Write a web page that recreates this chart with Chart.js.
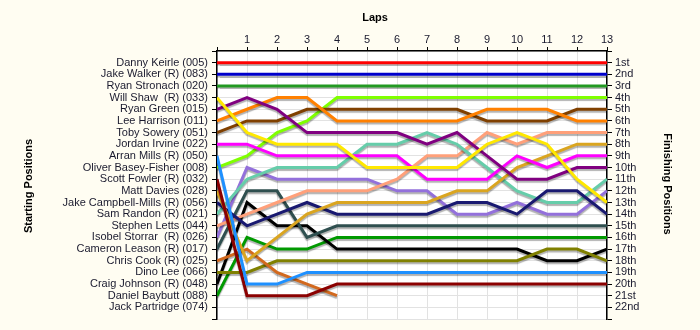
<!DOCTYPE html>
<html>
<head>
<meta charset="utf-8">
<title>Lap Chart</title>
<script src="https://cdn.jsdelivr.net/npm/chart.js@4.4.1/dist/chart.umd.min.js"></script>
<style>
    html, body { margin: 0; padding: 0; background: #FFFDF2; }
    #wrap { width: 700px; height: 330px; position: relative; }
</style>
</head>
<body>
<div id="wrap"><canvas id="lap-chart"></canvas></div>
<script>
// ======================================
// LAP CHART — DATA
// ======================================

const laps = [0, 1, 2, 3, 4, 5, 6, 7, 8, 9, 10, 11, 12, 13];

// starting grid order (tick labels on the left)
const startingGrid = [
    "Danny Keirle (005)", "Jake Walker (R) (083)", "Ryan Stronach (020)",
    "Will Shaw  (R) (033)", "Ryan Green (015)", "Lee Harrison (011)",
    "Toby Sowery (051)", "Jordan Irvine (022)", "Arran Mills (R) (050)",
    "Oliver Basey-Fisher (008)", "Scott Fowler (R) (032)", "Matt Davies (028)",
    "Jake Campbell-Mills (R) (056)", "Sam Randon (R) (021)", "Stephen Letts (044)",
    "Isobel Storrar  (R) (026)", "Cameron Leason (R) (017)", "Chris Cook (R) (025)",
    "Dino Lee (066)", "Craig Johnson (R) (048)", "Daniel Baybutt (088)",
    "Jack Partridge (074)"
];

// finishing positions (tick labels on the right)
const finishLabels = [
    "1st", "2nd", "3rd", "4th", "5th", "6th", "7th", "8th", "9th", "10th", "11th",
    "12th", "13th", "14th", "15th", "16th", "17th", "18th", "19th", "20th", "21st", "22nd"
];

// position of each driver at the end of every lap (lap 0 = grid)
const keirle        = [1, 1, 1, 1, 1, 1, 1, 1, 1, 1, 1, 1, 1, 1];
const walker        = [2, 2, 2, 2, 2, 2, 2, 2, 2, 2, 2, 2, 2, 2];
const stronach      = [3, 3, 3, 3, 3, 3, 3, 3, 3, 3, 3, 3, 3, 3];
const shaw          = [4, 7, 8, 8, 8, 10, 10, 10, 10, 8, 7, 8, 11, 13];
const green         = [5, 4, 5, 7, 7, 7, 7, 8, 7, 9, 11, 11, 10, 10];
const harrison      = [6, 5, 4, 4, 6, 6, 6, 6, 6, 5, 5, 5, 6, 6];
const sowery        = [7, 6, 6, 5, 5, 5, 5, 5, 5, 6, 6, 6, 5, 5];
const irvine        = [8, 8, 9, 9, 9, 9, 9, 11, 11, 11, 9, 10, 9, 9];
const mills         = [9, 20, 20, 19, 19, 19, 19, 19, 19, 19, 19, 19, 19, 19];
const baseyFisher   = [10, 9, 7, 6, 4, 4, 4, 4, 4, 4, 4, 4, 4, 4];
const fowler        = [11, 21, 21, 21, 20, 20, 20, 20, 20, 20, 20, 20, 20, 20];
const davies        = [12, 18, 16, 14, 13, 13, 13, 13, 12, 12, 10, 9, 8, 8];
const campbellMills = [13, 15, 14, 13, 14, 14, 14, 14, 13, 13, 14, 12, 12, 14];
const randon        = [14, 11, 10, 10, 10, 8, 8, 7, 8, 10, 12, 13, 13, 11];
const letts         = [15, 14, 13, 12, 12, 12, 11, 9, 9, 7, 8, 7, 7, 7];
const storrar       = [16, 10, 11, 11, 11, 11, 12, 12, 14, 14, 13, 14, 14, 12];
const leason        = [17, 12, 12, 16, 15, 15, 15, 15, 15, 15, 15, 15, 15, 15];
const cook          = [18, 17, 19, 20, 21, null, null, null, null, null, null, null, null, null];
const lee           = [19, 19, 18, 18, 18, 18, 18, 18, 18, 18, 18, 17, 17, 18];
const johnson       = [20, 13, 15, 15, 17, 17, 17, 17, 17, 17, 17, 18, 18, 17];
const baybutt       = [21, 16, 17, 17, 16, 16, 16, 16, 16, 16, 16, 16, 16, 16];

const driverSeries = [
    keirle, walker, stronach, shaw, green, harrison, sowery, irvine, mills,
    baseyFisher, fowler, davies, campbellMills, randon, letts, storrar, leason,
    cook, lee, johnson, baybutt
];

// line colours, same order as driverSeries
const lineColors = [
    "#FF0000", "#0000CC", "#229922", "#FFE800", "#800080", "#FF8000", "#804000",
    "#FF00FF", "#1E90FF", "#7FFF00", "#8B0000", "#DAA520", "#191970", "#66CDAA",
    "#FFA07A", "#9370DB", "#2F4F4F", "#D2691E", "#808000", "#000000", "#009900"
];


// ======================================
// PLUGINS
// ======================================

const textColor = "#1a1a2e";
const fontFamily = "'Liberation Sans', Arial, sans-serif";

// cream page, white plot area
const backgroundPlugin = {
    id: "background",
    beforeDraw: function (chart) {
        const ctx = chart.ctx;
        const a = chart.chartArea;
        ctx.save();
        ctx.fillStyle = "#FFFDF2";
        ctx.fillRect(0, 0, chart.width, chart.height);
        ctx.fillStyle = "#FFFFFF";
        ctx.fillRect(a.left, a.top, a.right - a.left, a.bottom - a.top);
        ctx.restore();
    }
};

// soft grey shadow under the lap lines
const shadowPlugin = {
    id: "lineShadow",
    beforeDatasetsDraw: function (chart) {
        const ctx = chart.ctx;
        ctx.save();
        ctx.shadowColor = "rgba(0, 0, 0, 0.3)";
        ctx.shadowOffsetX = 0;
        ctx.shadowOffsetY = 2;
        ctx.shadowBlur = 1;
    },
    afterDatasetsDraw: function (chart) {
        chart.ctx.restore();
    }
};

// axis titles
const titlesPlugin = {
    id: "titles",
    afterDraw: function (chart) {
        const ctx = chart.ctx;
        ctx.save();
        ctx.fillStyle = "#000";
        ctx.font = "bold 11px " + fontFamily;
        ctx.textAlign = "center";
        ctx.textBaseline = "middle";

        ctx.fillText("Laps", 375, 18);

        ctx.save();
        ctx.translate(29, 186);
        ctx.rotate(-Math.PI / 2);
        ctx.fillText("Starting Positions", 0, 0);
        ctx.restore();

        ctx.save();
        ctx.translate(667, 184);
        ctx.rotate(Math.PI / 2);
        ctx.fillText("Finishing Positions", 0, 0);
        ctx.restore();

        ctx.restore();
    }
};


// ======================================
// CHART
// ======================================

const datasets = driverSeries.map(function (series, i) {
    return {
        label: startingGrid[i],
        data: series,
        borderColor: lineColors[i],
        backgroundColor: lineColors[i],
        borderWidth: 3,
        pointRadius: 0,
        tension: 0,
        spanGaps: false,
        yAxisID: "y"
    };
});

const tickFont = { family: fontFamily, size: 11 };

new Chart(document.getElementById("lap-chart"), {
    type: "line",
    data: { labels: laps, datasets: datasets },
    options: {
        responsive: true,
        maintainAspectRatio: false,
        animation: false,
        layout: { padding: { top: 0, bottom: 11, left: 0, right: 0 } },
        plugins: {
            legend: { display: false },
            tooltip: { enabled: false }
        },
        scales: {
            x: {
                type: "linear",
                position: "top",
                min: 0,
                max: 13,
                afterFit: function (scale) { scale.height = 51; },
                ticks: {
                    stepSize: 1,
                    color: textColor,
                    font: tickFont,
                    padding: 0,
                    callback: function (value) { return value === 0 ? "" : value; }
                },
                grid: {
                    color: "#E2E2E2",
                    tickColor: "#000",
                    tickLength: 4
                },
                border: { color: "#000", width: 1.5 }
            },
            y: {
                type: "linear",
                position: "left",
                reverse: true,
                min: 0,
                max: 23,
                afterFit: function (scale) { scale.width = 217; },
                ticks: {
                    stepSize: 1,
                    autoSkip: false,
                    color: textColor,
                    font: tickFont,
                    padding: 4,
                    callback: function (value) { return startingGrid[value - 1] || ""; }
                },
                grid: {
                    color: "#E2E2E2",
                    tickColor: "#000",
                    tickLength: 5
                },
                border: { color: "#000", width: 1.5 }
            },
            y2: {
                type: "linear",
                position: "right",
                reverse: true,
                min: 0,
                max: 23,
                afterFit: function (scale) { scale.width = 93; },
                ticks: {
                    stepSize: 1,
                    autoSkip: false,
                    color: textColor,
                    font: tickFont,
                    padding: 3,
                    callback: function (value) { return finishLabels[value - 1] || ""; }
                },
                grid: {
                    drawOnChartArea: false,
                    tickColor: "#000",
                    tickLength: 5
                },
                border: { color: "#000", width: 1.5 }
            }
        }
    },
    plugins: [backgroundPlugin, shadowPlugin, titlesPlugin]
});
</script>
</body>
</html>
